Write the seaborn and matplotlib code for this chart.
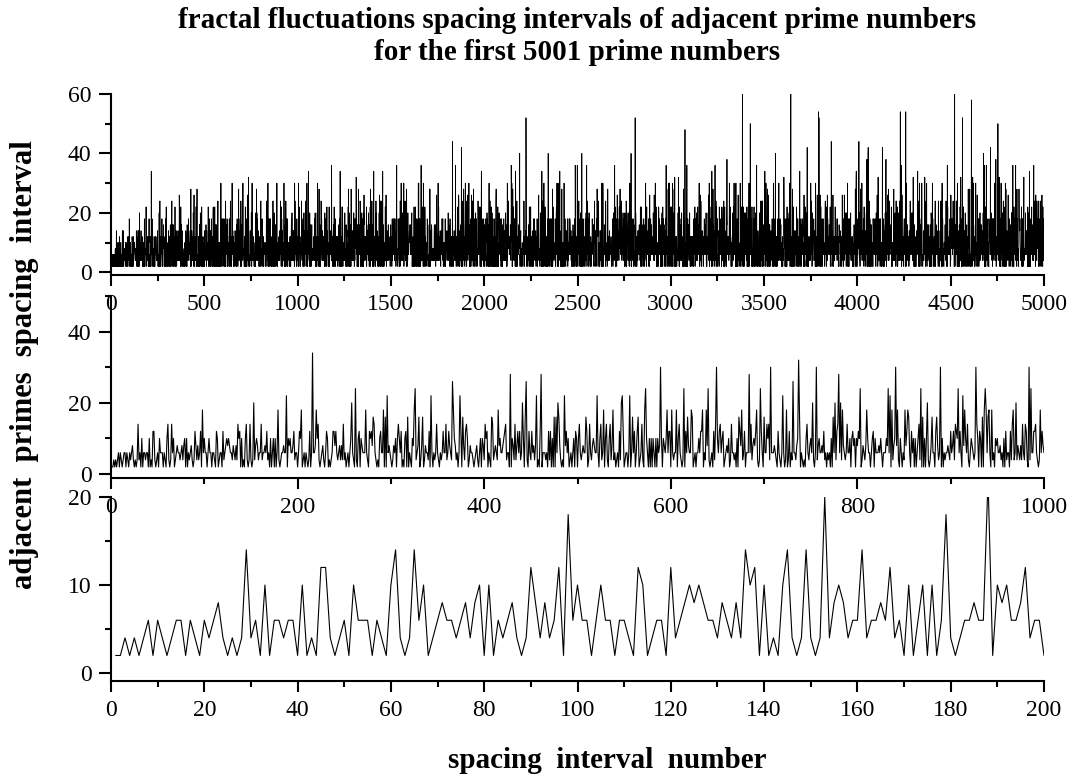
import numpy as np
import pandas as pd
import matplotlib
matplotlib.use("Agg")
import matplotlib.pyplot as plt
from matplotlib.ticker import MultipleLocator
import seaborn as sns

# ---- data: spacing intervals (gaps) of adjacent primes, first 5001 primes from 3 ----
N_PRIMES = 5001
SIEVE_LIMIT = 50000
is_prime = np.ones(SIEVE_LIMIT + 1, dtype=bool)
is_prime[:2] = False
for k in range(2, int(SIEVE_LIMIT ** 0.5) + 1):
    if is_prime[k]:
        is_prime[k * k::k] = False
odd_primes = np.nonzero(is_prime)[0][1:N_PRIMES + 1]
gaps = np.diff(odd_primes)
interval_number = np.arange(1, len(gaps) + 1)

panel_n = [5000, 1000, 200]
panel_ylim = [(-0.9, 60), (-1.1, 50), (-0.9, 20)]
panel_ymajor = [20, 20, 10]
panel_xmajor = [500, 200, 20]
panel_lw = [0.6, 0.8, 0.8]

title_lines = ["fractal fluctuations spacing intervals of adjacent prime numbers",
               "for the first 5001 prime numbers"]
ylabel = "adjacent  primes  spacing  interval"
xlabel = "spacing  interval  number"

sns.set_theme(style="ticks")
plt.rcParams["font.family"] = ["Liberation Serif", "DejaVu Serif"]
plt.rcParams.update({
    "text.color": "black",
    "axes.labelcolor": "black",
    "axes.linewidth": 1.5,
    "xtick.major.width": 1.5, "ytick.major.width": 1.5,
    "xtick.minor.width": 1.5, "ytick.minor.width": 1.5,
    "xtick.major.size": 8, "ytick.major.size": 9,
    "xtick.minor.size": 4.5, "ytick.minor.size": 4.5,
    "xtick.direction": "out", "ytick.direction": "out",
    "xtick.labelsize": 17, "ytick.labelsize": 17,
    "xtick.major.pad": 6, "ytick.major.pad": 5,
    "xtick.color": "black", "ytick.color": "black",
    "xtick.labelcolor": "black", "ytick.labelcolor": "black",
    "axes.edgecolor": "black",
})

fig = plt.figure(figsize=(10.7, 7.8), dpi=100)
W, H = 1070, 780
left_px, right_px = 111, 1044
panel_px = [(94, 275), (296, 478), (497, 681)]

for i in range(3):
    top_px, bot_px = panel_px[i]
    ax = fig.add_axes([left_px / W, 1 - bot_px / H, (right_px - left_px) / W, (bot_px - top_px) / H])
    ax.patch.set_visible(False)
    n = panel_n[i]
    df = pd.DataFrame({"x": interval_number[:n], "y": gaps[:n]})
    sns.lineplot(data=df, x="x", y="y", ax=ax, color="black", linewidth=panel_lw[i],
                 estimator=None, sort=False)
    ax.set_xlim(0, n)
    ax.set_ylim(*panel_ylim[i])
    ax.xaxis.set_major_locator(MultipleLocator(panel_xmajor[i]))
    ax.xaxis.set_minor_locator(MultipleLocator(panel_xmajor[i] / 2))
    ax.yaxis.set_major_locator(MultipleLocator(panel_ymajor[i]))
    ax.yaxis.set_minor_locator(MultipleLocator(panel_ymajor[i] / 2))
    ax.set_xlabel("")
    ax.set_ylabel("")
    for s in ["top", "right"]:
        ax.spines[s].set_visible(False)
    ax.grid(False)

fig.text(577 / W, 1 - 20 / H, title_lines[0], ha="center", va="center",
         fontsize=21, fontweight="bold", color="black")
fig.text(577 / W, 1 - 52 / H, title_lines[1], ha="center", va="center",
         fontsize=21, fontweight="bold", color="black")
fig.text(25 / W, 1 - 365 / H, ylabel, rotation=90, ha="center", va="center",
         fontsize=22, fontweight="bold", color="black")
fig.text(607 / W, 1 - 760 / H, xlabel, ha="center", va="center",
         fontsize=21, fontweight="bold", color="black")

fig.savefig("out.png", dpi=100)
